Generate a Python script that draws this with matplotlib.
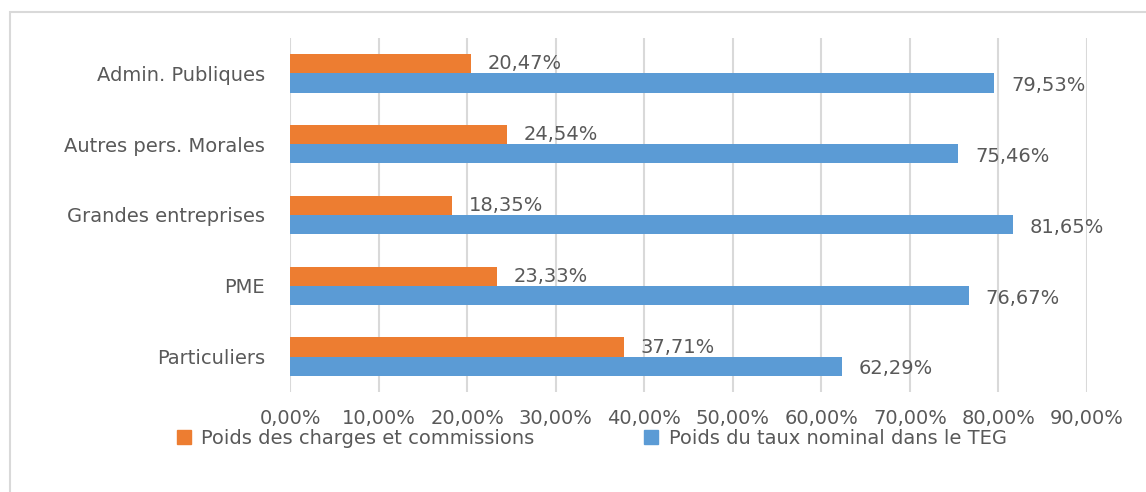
import matplotlib.pyplot as plt
from matplotlib.patches import Rectangle
from matplotlib.lines import Line2D
import numpy as np

# Data (bottom to top)
categories = ["Particuliers", "PME", "Grandes entreprises",
              "Autres pers. Morales", "Admin. Publiques"]
charges = [37.71, 23.33, 18.35, 24.54, 20.47]
taux = [62.29, 76.67, 81.65, 75.46, 79.53]
series_names = ["Poids des charges et commissions",
                "Poids du taux nominal dans le TEG"]
x_ticks = [0, 10, 20, 30, 40, 50, 60, 70, 80, 90]

orange = "#ED7D31"
blue = "#5B9BD5"
txt = "#595959"
grid = "#d9d9d9"
fs = 14

plt.rcParams['font.family'] = ['DejaVu Sans']

def fr(v):
    return ("%.2f%%" % v).replace(".", ",")

fig = plt.figure(figsize=(11.46, 4.92), dpi=100)
ax = fig.add_axes([290 / 1146, 1 - 392 / 492, (1087 - 290) / 1146, (392 - 38) / 492])

y = np.arange(len(categories))
h = 0.27
ax.barh(y + h / 2, charges, height=h, color=orange, zorder=3)
ax.barh(y - h / 2, taux, height=h, color=blue, zorder=3)

# value labels
for i in range(len(categories)):
    ax.annotate(fr(charges[i]), (charges[i], y[i] + h / 2), xytext=(12, 0),
                textcoords="offset points", va="center", ha="left",
                fontsize=fs, color=txt, zorder=4)
    ax.annotate(fr(taux[i]), (taux[i], y[i] - h / 2), xytext=(12, -2),
                textcoords="offset points", va="center", ha="left",
                fontsize=fs, color=txt, zorder=4)

ax.set_xlim(0, 90)
ax.set_ylim(-0.5, 4.5)
ax.set_xticks(x_ticks)
ax.set_xticklabels([fr(v) for v in x_ticks])
ax.set_yticks(y)
ax.set_yticklabels(categories)
ax.tick_params(axis="x", length=0, pad=12, labelsize=fs, labelcolor=txt)
ax.tick_params(axis="y", length=0, pad=18, labelsize=fs, labelcolor=txt)
ax.xaxis.grid(True, color=grid, linewidth=1.5, zorder=0)
for s in ax.spines.values():
    s.set_visible(False)

# legend
handles = [Line2D([], [], marker="s", linestyle="", color=orange, markersize=10),
           Line2D([], [], marker="s", linestyle="", color=blue, markersize=10)]
fig.legend(handles, series_names, loc="center", bbox_to_anchor=(0.515, 1 - 438 / 492),
           ncol=2, frameon=False, fontsize=fs, labelcolor=txt,
           handletextpad=0.4, columnspacing=5.5, handlelength=1.0)

# chart frame (only left and top edges visible)
fig.patches.append(Rectangle((10 / 1146, -0.1), 1.2, 1 - 12 / 492 + 0.1,
                             transform=fig.transFigure, fill=False,
                             edgecolor=grid, linewidth=1.5))

fig.savefig("out.png", dpi=100, facecolor="white")
